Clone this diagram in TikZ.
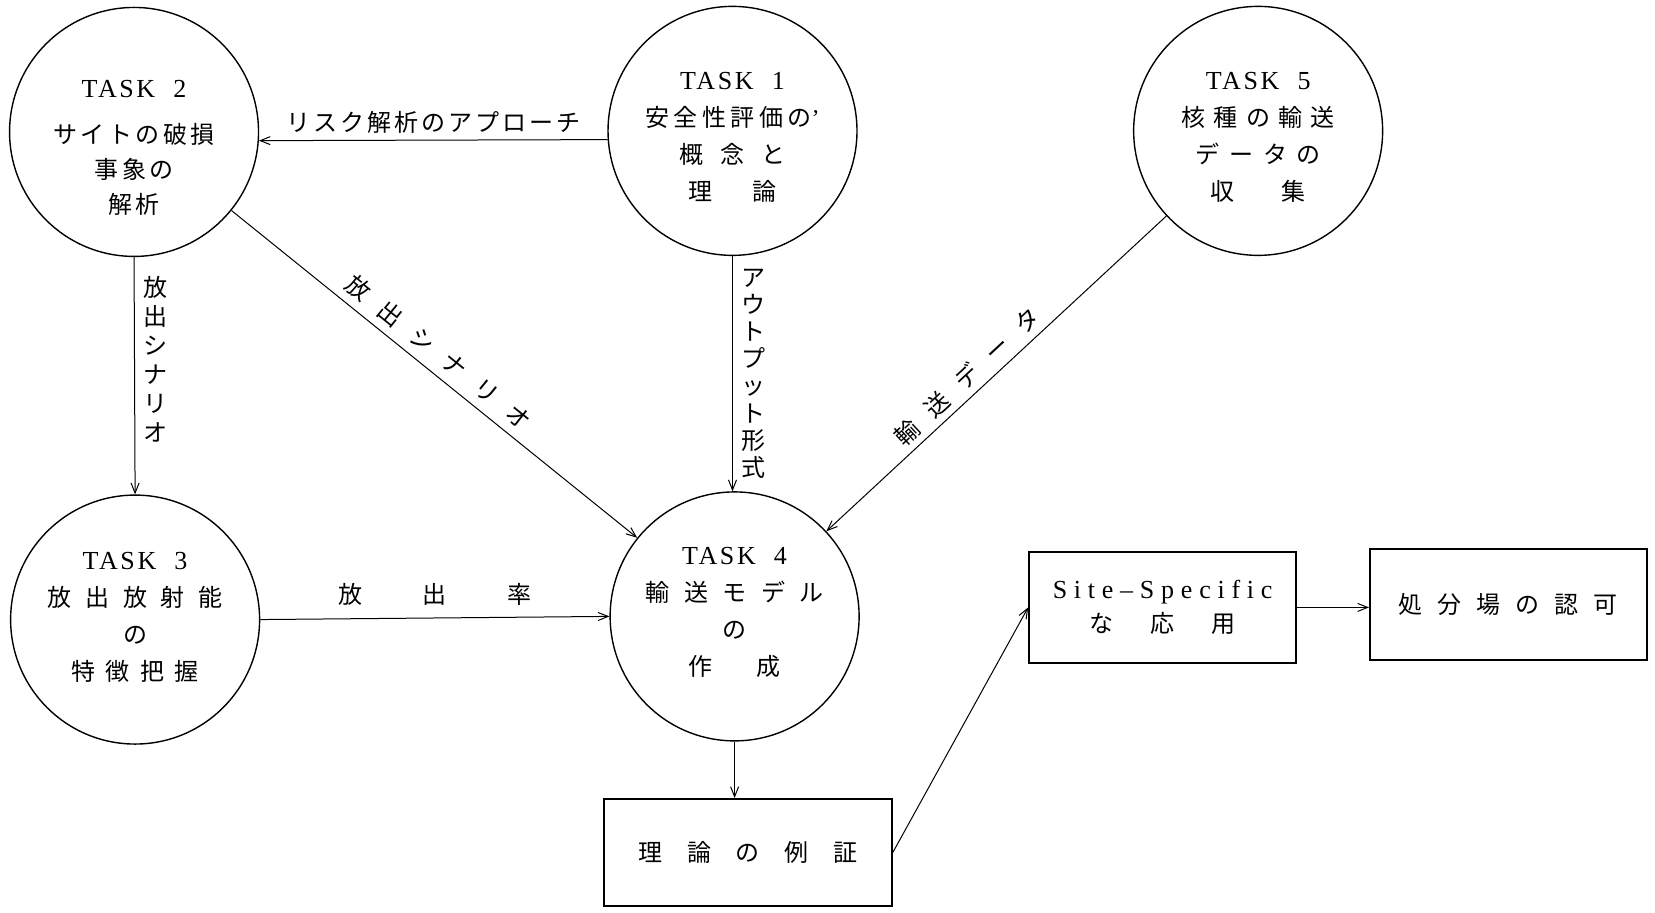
\documentclass[tikz,border=0pt]{standalone}
\usepackage{fontspec}
\setmainfont{Liberation Serif}
\newfontfamily\jpf{Noto Sans CJK JP}
\newfontfamily\latf[LetterSpace=10]{Liberation Serif}
\newfontfamily\latw[LetterSpace=26]{Liberation Serif}
\usetikzlibrary{arrows.meta,calc}
\makeatletter
\def\sptext#1#2{\def\sp@gap{#1}\sp@first#2\relax}
\def\sp@first#1{\ifx\relax#1\else#1\expandafter\sp@rest\fi}
\def\sp@rest#1{\ifx\relax#1\else\hspace{\sp@gap}#1\expandafter\sp@rest\fi}
\makeatother
\newcommand\tsk[1]{{\latf\fontsize{13}{15}\selectfont TASK\hspace{0.7em}#1}}
\begin{document}
\begin{tikzpicture}[x=0.5278pt,y=-0.5278pt,
  task/.style={circle,draw,line width=0.7pt,minimum size=124.5pt,inner sep=0pt},
  box/.style={rectangle,draw,line width=1pt,inner sep=0pt,align=center,
              font=\jpf\fontsize{12}{17.4}\selectfont},
  conn/.style={line width=0.5pt,-{Straight Barb[length=5pt,width=4pt]}},
  lbl/.style={font=\jpf\fontsize{12}{14.5}\selectfont,inner sep=2pt,align=center},
  txt/.style={align=center,inner sep=0pt,font=\jpf\fontsize{12}{18.5}\selectfont}]
\useasboundingbox (0,0) rectangle (1568,865);

% circles
\node[task] (t2) at (127,125) {};
\node[task] (t1) at (694,124) {};
\node[task] (t5) at (1192,124) {};
\node[task] (t3) at (128,587) {};
\node[task] (t4) at (696,584) {};

% circle texts
\node[txt,font=\jpf\fontsize{12}{17.4}\selectfont] (t2txt) at (127,140)
  {\tsk{2}\\[6pt]\sptext{1.7pt}{サイトの破損}\\\sptext{1.7pt}{事象の}\\\sptext{1.5pt}{解析}};
\node[txt] (t1txt) at (694,130)
  {\tsk{1}\\\sptext{2.2pt}{安全性評価の}{\rmfamily '}\\\sptext{8.6pt}{概念と}\\\sptext{19.7pt}{理論}};
\node[txt] (t5txt) at (1192,130)
  {\tsk{5}\\\sptext{4.2pt}{核種の輸送}\\\sptext{4.9pt}{データの}\\\sptext{23.4pt}{収集}};
\node[txt] (t3txt) at (128,585)
  {\tsk{3}\\\sptext{6.9pt}{放出放射能}\\の\\\sptext{5.3pt}{特徴把握}};
\node[txt] (t4txt) at (696,580)
  {\tsk{4}\\\sptext{7.3pt}{輸送モデル}\\の\\\sptext{22.3pt}{作成}};

% boxes
\node[box,minimum width=144.1pt,minimum height=53.3pt] (proof) at (708.5,807.5)
  {\sptext{12.3pt}{理論の例証}};
\node[box,minimum width=133.5pt,minimum height=55.4pt] (site) at (1101.5,575.5)
  {{\latw\fontsize{13}{15}\selectfont Site–Specific}\\\sptext{18.5pt}{な応用}};
\node[box,minimum width=138.3pt,minimum height=55.4pt] (lic) at (1429,572.5)
  {\sptext{7.5pt}{処分場の認可}};

% connectors
\draw[conn] (t1.184) -- node[lbl,above=1pt]{\sptext{1.5pt}{リスク解析のアプローチ}} (t2.356);
\draw[conn] (t2.south) -- node[lbl,right=2pt,pos=0.43]{放\\出\\シ\\ナ\\リ\\オ} (t3.north);
\draw[conn] (t2) -- node[lbl,sloped,above=2pt,pos=0.48]{\sptext{8.5pt}{放出シナリオ}} (t4);
\draw[conn] (t1.south) -- node[lbl,right=2pt,font=\jpf\fontsize{12}{13.6}\selectfont]{ア\\ウ\\ト\\プ\\ッ\\ト\\形\\式} (t1.south |- t4.north);
\draw[conn] (t5) -- node[lbl,sloped,above=1pt,pos=0.55]{\sptext{8.5pt}{輸送データ}} (t4);
\draw[conn] (t3.east) -- node[lbl,above=4pt]{\sptext{30.2pt}{放出率}} (t4.west);
\draw[conn] (t4.south) -- (t4.south |- proof.north);
\draw[conn] (proof.east) -- (site.west);
\draw[conn] (site.east) -- (site.east -| lic.west);
\end{tikzpicture}
\end{document}
